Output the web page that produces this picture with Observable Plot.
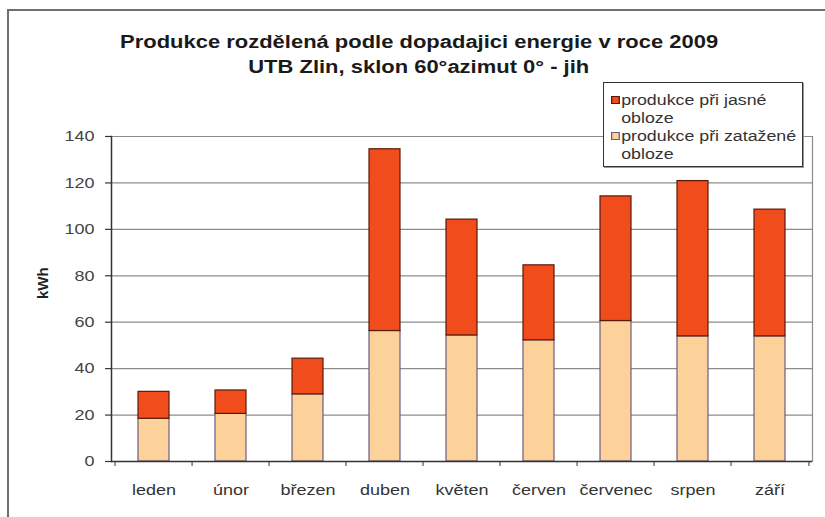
<!DOCTYPE html>
<html>
<head>
<meta charset="utf-8">
<script src="https://cdn.jsdelivr.net/npm/d3@7"></script>
<script src="https://cdn.jsdelivr.net/npm/@observablehq/plot@0.6"></script>
<style>
  html, body { margin: 0; padding: 0; background: #fff; }
  #wrap { position: relative; width: 825px; height: 517px; overflow: hidden; font-family: "Liberation Sans", Arial, sans-serif; }
  #frame { position: absolute; left: 7px; top: 9px; width: 830px; height: 530px; border-top: 2px solid #6f6f6f; border-left: 2px solid #6f6f6f; box-sizing: border-box; }
  #title { position: absolute; left: 0; width: 838px; top: 30px; text-align: center; font-weight: bold; font-size: 18px; line-height: 25px; color: #1a1a1a; }
  #title span { display: inline-block; transform: scaleX(1.22); }
  #legend { position: absolute; left: 603px; top: 82px; width: 200px; height: 85px; border: 1.5px solid #333; box-sizing: border-box; background: #fff; font-size: 14px; color: #333; box-shadow: 1px 1px 0 #999; }
  .item { position: absolute; left: 7px; line-height: 18px; transform: scaleX(1.27); transform-origin: left top; white-space: nowrap; }
  .sw { display: inline-block; width: 5px; height: 6px; margin-right: 1px; vertical-align: 1px; }
  .sub { padding-left: 8px; display: block; }
  #chart { position: absolute; left: 0; top: 0; }
</style>
</head>
<body>
<div id="wrap">
  <div id="chart"></div>
  <div id="frame"></div>
  <div id="title"><span>Produkce rozdělená podle dopadajici energie v roce 2009</span><br><span>UTB Zlin, sklon 60°azimut 0° - jih</span></div>
  <div id="legend"></div>
</div>
<script>
const months = ["leden", "únor", "březen", "duben", "květen", "červen", "červenec", "srpen", "září"];
const overcast = [18.4, 20.5, 28.9, 56.2, 54.3, 52.2, 60.5, 53.9, 53.9];
const clear = [11.6, 10.1, 15.4, 78.3, 49.9, 32.3, 53.7, 66.9, 54.6];
const seriesNames = ["produkce při jasné obloze", "produkce při zatažené obloze"];
const seriesColors = ["#F04C1C", "#FDD29A"];
const yTicks = [0, 20, 40, 60, 80, 100, 120, 140];

const totals = overcast.map((v, i) => v + clear[i]);
const W = 825, H = 517, mL = 111, mR = 13, mT = 136, mB = 56;
const step = (W - mL - mR) / months.length;

const chart = Plot.plot({
  width: W, height: H,
  marginLeft: mL, marginRight: mR, marginTop: mT, marginBottom: mB,
  style: { fontFamily: "Liberation Sans, Arial, sans-serif", background: "transparent" },
  x: { domain: months, paddingInner: 0.6, paddingOuter: 0.3, label: null, axis: null },
  y: { domain: [0, 140], label: null, axis: null },
  marks: [
    Plot.ruleY(yTicks.filter(d => d > 0), { stroke: "#8c8c8c", strokeWidth: 1.2 }),
    Plot.barY(months, { x: d => d, y1: 0, y2: (d, i) => overcast[i], fill: seriesColors[1], stroke: "#6e5c7e", strokeWidth: 1.2 }),
    Plot.barY(months, { x: d => d, y1: (d, i) => overcast[i], y2: (d, i) => totals[i], fill: seriesColors[0], stroke: "#5a1a0a", strokeWidth: 1.2 }),
    Plot.frame({ anchor: "left", stroke: "#333", strokeWidth: 1.5 }),
    Plot.frame({ anchor: "right", stroke: "#8c8c8c", strokeWidth: 1.2 }),
    Plot.ruleY([0], { stroke: "#333", strokeWidth: 1.5 }),
    Plot.ruleX(months, { x: d => d, dx: -step / 2, y1: 0, y2: 0, insetBottom: -5, stroke: "#333" }),
    Plot.ruleX([months[months.length - 1]], { x: d => d, dx: step / 2, y1: 0, y2: 0, insetBottom: -5, stroke: "#333" }),
    Plot.text(yTicks, { y: d => d, text: d => String(d), frameAnchor: "left", dx: -17, textAnchor: "end", fontSize: 15, fill: "#444", className: "stretch" }),
    Plot.text(months, { x: d => d, y: 0, text: d => d, dy: 29, fontSize: 15, fill: "#333", className: "stretch" }),
    Plot.text(["kWh"], { frameAnchor: "left", dx: -68, rotate: -90, fontWeight: "bold", fontSize: 15, fill: "#222", text: d => d })
  ]
});
// widen the text horizontally like the (stretched) reference
chart.querySelectorAll("g.stretch text").forEach(t => {
  const tr = t.getAttribute("transform") || "";
  t.setAttribute("transform", tr + " scale(1.2,1)");
});
document.getElementById("chart").appendChild(chart);

// y-axis outward ticks: overlay plot sharing the same y scale
const yTickPlot = Plot.plot({
  width: W, height: H,
  marginLeft: mL - 6, marginRight: W - mL, marginTop: mT, marginBottom: mB,
  style: { background: "transparent" },
  x: { axis: null, domain: [0, 1] },
  y: { domain: [0, 140], axis: null },
  marks: [Plot.ruleY(yTicks, { x1: 0, x2: 1, stroke: "#333", strokeWidth: 1.2 })]
});
yTickPlot.style.position = "absolute";
yTickPlot.style.left = "0px";
yTickPlot.style.top = "0px";
document.getElementById("chart").appendChild(yTickPlot);

const legend = document.getElementById("legend");
const lines = [["produkce při jasné", "obloze"], ["produkce při zatažené", "obloze"]];
lines.forEach((l, i) => {
  const div = document.createElement("div");
  div.className = "item";
  div.style.top = (8 + i * 36) + "px";
  const sw = document.createElement("span");
  sw.className = "sw";
  sw.style.background = seriesColors[i];
  sw.style.border = "1px solid " + (i === 0 ? "#5a1a0a" : "#6e5c7e");
  div.appendChild(sw);
  div.appendChild(document.createTextNode(l[0]));
  const sub = document.createElement("span");
  sub.className = "sub";
  sub.textContent = l[1];
  div.appendChild(sub);
  legend.appendChild(div);
});
</script>
</body>
</html>
